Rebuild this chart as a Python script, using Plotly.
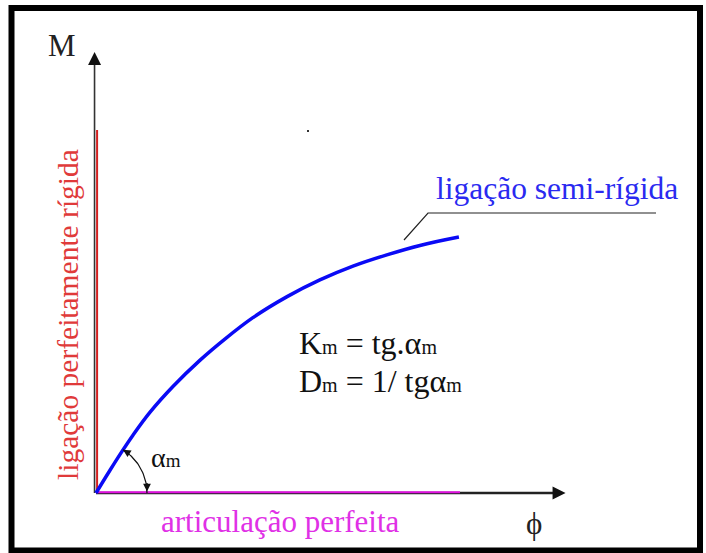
import numpy as np
import plotly.graph_objects as go

# ---- data (rotation phi, moment M) ----
phi_semi = [0.0, 0.038, 0.071, 0.102, 0.148, 0.212, 0.286, 0.354, 0.431, 0.525, 0.615, 0.706, 0.799, 0.890, 0.997]
M_semi   = [0.0, 0.062, 0.114, 0.160, 0.222, 0.294, 0.366, 0.424, 0.483, 0.541, 0.587, 0.625, 0.656, 0.682, 0.705]
phi_rigid = [0.0, 0.0]
M_rigid   = [0.0, 1.0]
phi_pinned = [0.0, 1.0]
M_pinned   = [0.0, 0.0]
phi_axis_end = 1.29
M_axis_end = 1.215

label_semi = "ligação semi-rígida"
label_rigid = "ligação perfeitamente rígida"
label_pinned = "articulação perfeita"

W, H = 706, 553
ox, oy = 96, 493          # pixel origin
sx, sy = 364.0, 363.0     # pixels per unit
xr = [-ox / sx, (W - ox) / sx]
yr = [(oy - H) / sy, oy / sy]

def px(x):  # pixel x -> data
    return (x - ox) / sx
def py(y):  # pixel y -> data
    return (oy - y) / sy

SERIF = "Liberation Serif"
fig = go.Figure()

# axes lines
fig.add_trace(go.Scatter(x=[0, phi_axis_end - 0.02], y=[0, 0], mode="lines",
                         line=dict(color="#222222", width=2.6), hoverinfo="skip"))
fig.add_trace(go.Scatter(x=[-0.004, -0.004], y=[0, M_axis_end - 0.02], mode="lines",
                         line=dict(color="#333333", width=1.6), hoverinfo="skip"))
# rigid / pinned lines
fig.add_trace(go.Scatter(x=[v + 0.003 for v in phi_rigid], y=M_rigid, mode="lines",
                         line=dict(color="#d42020", width=2), hoverinfo="skip"))
fig.add_trace(go.Scatter(x=phi_pinned, y=[v + 0.002 for v in M_pinned], mode="lines",
                         line=dict(color="#e010e0", width=2.2), hoverinfo="skip"))
# semi-rigid curve
fig.add_trace(go.Scatter(x=phi_semi, y=M_semi, mode="lines", line_shape="spline",
                         line=dict(color="#0a0af5", width=3.5), hoverinfo="skip"))

# angle arc alpha_m (derived from initial slope of curve)
alpha = np.arctan2(M_semi[2] * sy, phi_semi[2] * sx)
r = 51.0
t = np.linspace(0, alpha, 40)
fig.add_trace(go.Scatter(x=(r * np.cos(t)) / sx, y=(r * np.sin(t)) / sy, mode="lines",
                         line=dict(color="#111111", width=1.2), hoverinfo="skip"))

annos = []
# arc arrowheads
tipx, tipy = r * np.cos(alpha), r * np.sin(alpha)
annos.append(dict(x=tipx / sx, y=tipy / sy, xref="x", yref="y",
                  ax=9 * np.sin(alpha), ay=9 * np.cos(alpha),
                  showarrow=True, arrowhead=2, arrowsize=1.1, arrowwidth=1.4, arrowcolor="#111111",
                  text="", standoff=0, startstandoff=0))
annos.append(dict(x=r / sx, y=0.004, xref="x", yref="y", ax=0, ay=-10,
                  showarrow=True, arrowhead=2, arrowsize=1.1, arrowwidth=1.4, arrowcolor="#111111",
                  text="", standoff=0))
# axis arrowheads
annos.append(dict(x=phi_axis_end, y=0, xref="x", yref="y", ax=-14, ay=0,
                  showarrow=True, arrowhead=2, arrowsize=1.3, arrowwidth=2, arrowcolor="#111111", text=""))
annos.append(dict(x=-0.004, y=M_axis_end, xref="x", yref="y", ax=0, ay=14,
                  showarrow=True, arrowhead=2, arrowsize=1.3, arrowwidth=2, arrowcolor="#111111", text=""))

# texts
annos.append(dict(x=px(62), y=py(45), xref="x", yref="y", text="M", showarrow=False,
                  font=dict(family=SERIF, size=31, color="#222222")))
annos.append(dict(x=px(534), y=py(523), xref="x", yref="y", text="ϕ", showarrow=False,
                  font=dict(family=SERIF, size=31, color="#222222")))
annos.append(dict(x=px(557), y=py(188), xref="x", yref="y", text=label_semi, showarrow=False,
                  font=dict(family=SERIF, size=31.5, color="#2a2af0")))
annos.append(dict(x=px(280), y=py(521), xref="x", yref="y", text=label_pinned, showarrow=False,
                  font=dict(family=SERIF, size=31, color="#e030e6")))
annos.append(dict(x=px(68), y=py(315), xref="x", yref="y", text=label_rigid, showarrow=False,
                  textangle=-90, font=dict(family=SERIF, size=29.5, color="#e03a3a")))
sm = '<span style="font-size:20px">m</span>'
annos.append(dict(x=px(297), y=py(343), xref="x", yref="y", xanchor="left",
                  text="K" + sm + " = tg.α" + sm, showarrow=False,
                  font=dict(family=SERIF, size=32, color="#111111")))
annos.append(dict(x=px(297), y=py(381), xref="x", yref="y", xanchor="left",
                  text="D" + sm + " = 1/ tgα" + sm, showarrow=False,
                  font=dict(family=SERIF, size=32, color="#111111")))
annos.append(dict(x=px(149), y=py(457), xref="x", yref="y", xanchor="left",
                  text="α" + '<span style="font-size:19px">m</span>', showarrow=False,
                  font=dict(family=SERIF, size=28, color="#111111")))

shapes = []
# leader line for the semi-rigid label
shapes.append(dict(type="path", xref="x", yref="y",
                   path=f"M {px(404)} {py(240)} L {px(428)} {py(213)} L {px(656)} {py(213)}",
                   line=dict(color="#222222", width=1.2)))
# tiny dot
shapes.append(dict(type="rect", xref="x", yref="y", x0=px(307), x1=px(309), y0=py(132), y1=py(130),
                   fillcolor="#333333", line=dict(width=0)))
# frame
shapes.append(dict(type="rect", xref="paper", yref="paper",
                   x0=11.5 / W, x1=700 / W, y0=1 - 550.5 / H, y1=1 - 8 / H,
                   line=dict(color="black", width=6)))

fig.update_layout(
    width=W, height=H, autosize=False,
    margin=dict(l=0, r=0, t=0, b=0),
    paper_bgcolor="white", plot_bgcolor="white",
    showlegend=False,
    font=dict(family=SERIF),
    xaxis=dict(range=xr, visible=False, fixedrange=True),
    yaxis=dict(range=yr, visible=False, fixedrange=True),
    annotations=annos, shapes=shapes,
)
fig.write_html("out.html", config={"displayModeBar": False},
               post_script="document.body.style.margin='0';document.body.style.overflow='hidden';")
